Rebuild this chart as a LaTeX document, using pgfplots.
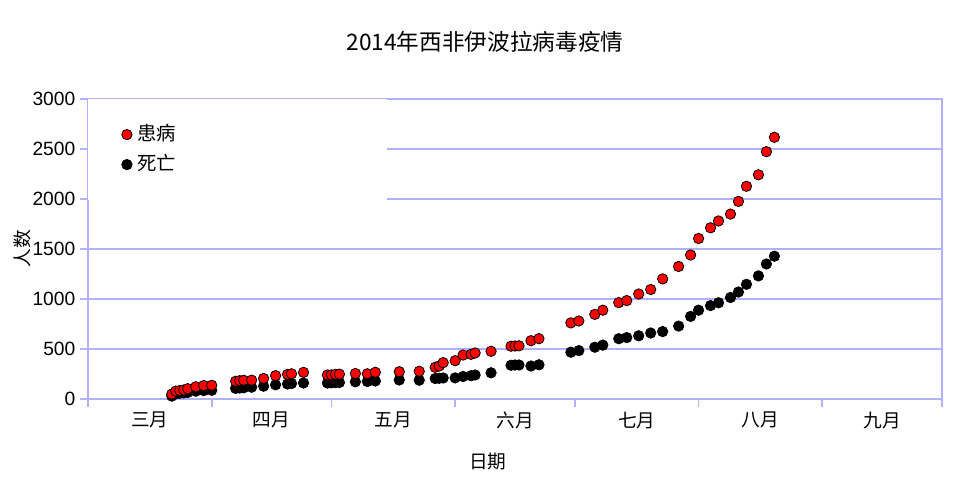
\documentclass[border=0pt]{standalone}
\usepackage{pgfplots}
\pgfplotsset{compat=1.18}
\usepackage{fontspec}
\setmainfont{Liberation Sans}
\newfontfamily\cjk{Noto Sans CJK SC}
\definecolor{gridblue}{RGB}{176,176,255}

\begin{document}
\begin{tikzpicture}
\begin{axis}[
    at={(0,0)}, anchor=south west,
    scale only axis, width=640.5pt, height=225pt,
    xmin=0, xmax=214, ymin=0, ymax=3000,
    xtick={0,31,61,92,122,153,184,214},
    xticklabels={三月,四月,五月,六月,七月,八月,九月},
    x tick label as interval,
    ytick={0,500,...,3000},
    ymajorgrids,
    tick align=outside, major tick length=6pt,
    xtick pos=left, ytick pos=left,
    axis line style={gridblue, line width=1.2pt},
    every tick/.style={gridblue, line width=1.2pt},
    major grid style={gridblue, line width=1.2pt},
    /pgf/number format/assume math mode=true,
    /pgf/number format/1000 sep={},
    yticklabel style={font=\fontsize{14.4}{16}\selectfont},
    xticklabel style={font=\cjk\fontsize{14}{16}\selectfont},
    title={2014年西非伊波拉病毒疫情},
    title style={at={(axis description cs:0.4649,1.163)}, anchor=center,
        font=\cjk\fontsize{17}{20}\selectfont},
    xlabel={日期},
    xlabel style={at={(axis description cs:0.468,-0.21)}, anchor=center,
        font=\cjk\fontsize{14}{16}\selectfont},
    ylabel={人数},
    ylabel style={at={(axis description cs:-0.077,0.5)}, anchor=center,
        font=\cjk\fontsize{14}{16}\selectfont},
    reverse legend,
    legend image code/.code={
        \path[draw=none, fill=none] (-29pt,0pt) rectangle (0pt,0pt);
        \draw[#1] plot coordinates {(0pt,0pt)};
    },
    legend style={at={(axis description cs:0,1)}, anchor=north west,
        draw=none, fill=white, inner xsep=0pt, inner ysep=19.5pt,
        row sep=8.5pt, column sep=3.7pt,
        font=\cjk\fontsize{14.5}{16}\selectfont,
        cells={anchor=west},
        nodes={inner sep=0pt, text height=11.5pt, text depth=2.5pt, text width=187.5pt}},
]
% deaths (drawn first so the cases sit on top)
\addplot[only marks, mark=*, mark size=3.9pt, line width=0.6pt,
    mark options={draw=black, fill=black}] coordinates {
(21,29) (22,52) (23,58) (24,61) (25,66) (27,78) (29,84) (31,87)
(37,106) (38,110) (39,112) (41,118) (44,128) (47,142) (50,150) (51,155) (54,160)
(60,160) (61,162) (62,164) (63,165) (67,172) (70,175) (72,180) (78,190) (83,188)
(87,205) (88,207) (89,210) (92,211) (94,225) (96,233) (97,240) (101,262)
(106,337) (107,340) (108,340) (111,330) (113,342)
(121,468) (123,484) (127,518) (129,539) (133,603) (135,614) (138,632) (141,660)
(144,674) (148,729) (151,826) (153,888) (156,934) (158,962) (161,1015)
(163,1070) (165,1147) (168,1231) (170,1350) (172,1428)
};
\addlegendentry{死亡}
% cases
\addplot[only marks, mark=*, mark size=3.9pt, line width=0.6pt,
    mark options={draw=black, fill=red}] coordinates {
(21,49) (22,79) (23,85) (24,90) (25,103) (27,122) (29,134) (31,137)
(37,177) (38,183) (39,187) (41,188) (44,205) (47,233) (50,246) (51,252) (54,266)
(60,240) (61,241) (62,246) (63,248) (67,255) (70,252) (72,267) (78,273) (83,277)
(87,317) (88,330) (89,363) (92,383) (94,440) (96,447) (97,460) (101,477)
(106,528) (107,530) (108,532) (111,583) (113,603)
(121,761) (123,780) (127,846) (129,888) (133,964) (135,984) (138,1050) (141,1095)
(144,1201) (148,1325) (151,1440) (153,1605) (156,1712) (158,1780) (161,1849)
(163,1976) (165,2127) (168,2242) (170,2473) (172,2617)
};
\addlegendentry{患病}
\end{axis}
\pgfresetboundingbox
\path[use as bounding box] (-66pt,-59.25pt) rectangle (657pt,299.25pt);
\end{tikzpicture}
\end{document}
